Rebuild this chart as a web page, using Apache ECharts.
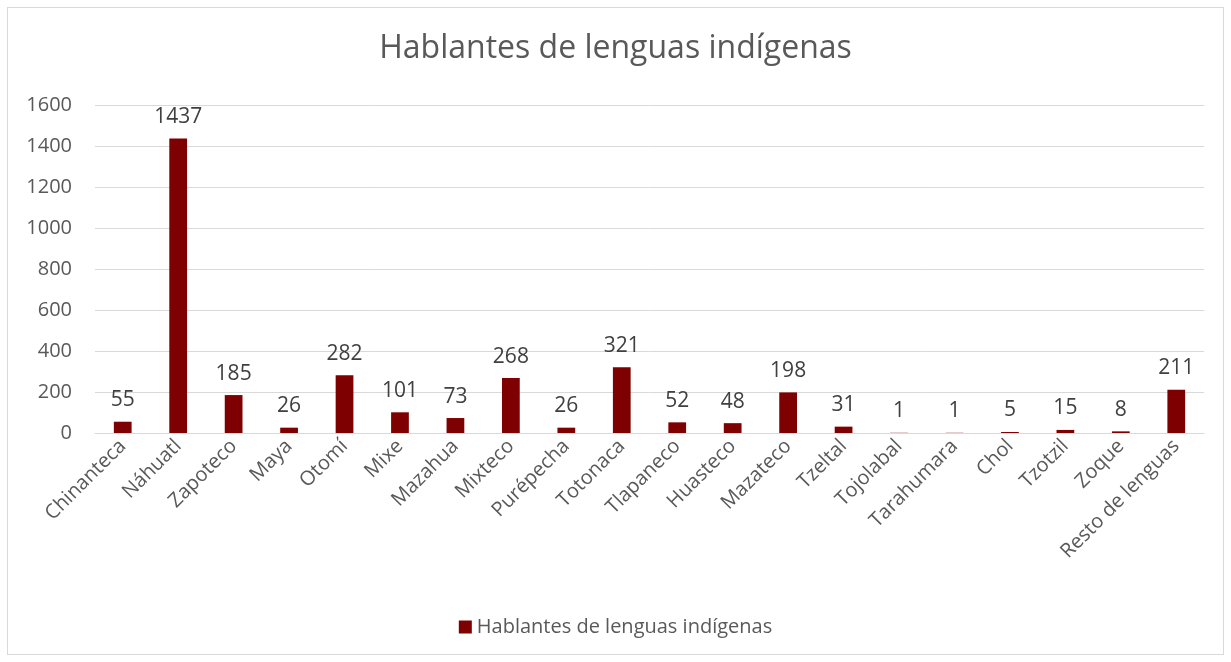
<!doctype html>
<html lang="es">
<head>
    <meta charset="UTF-8">
    <script src="https://cdn.jsdelivr.net/npm/echarts@6/dist/echarts.min.js"></script>
    <title>Hablantes de lenguas indígenas</title>
    <style>
        html, body { margin: 0; padding: 0; background: #fff; }
        #frame { position: absolute; left: 7px; top: 7px; width: 1215px; height: 646px; border: 1px solid #d9d9d9; }
        #main { position: absolute; left: 0; top: 0; width: 1231px; height: 662px; }
    </style>
</head>
<body>
<div id="frame"></div>
<div id="main"></div>
<script type="text/javascript">
    var lenguas = ['Chinanteca', 'Náhuatl', 'Zapoteco', 'Maya', 'Otomí', 'Mixe', 'Mazahua', 'Mixteco',
        'Purépecha', 'Totonaca', 'Tlapaneco', 'Huasteco', 'Mazateco', 'Tzeltal', 'Tojolabal',
        'Tarahumara', 'Chol', 'Tzotzil', 'Zoque', 'Resto de lenguas'];
    var hablantes = [55, 1437, 185, 26, 282, 101, 73, 268, 26, 321, 52, 48, 198, 31, 1, 1, 5, 15, 8, 211];
    var nombreSerie = 'Hablantes de lenguas indígenas';

    var fuente = '"Open Sans", Lato, sans-serif';
    var myChart = echarts.init(document.getElementById('main'));

    var option = {
        animation: false,
        textStyle: { fontFamily: fuente },
        title: {
            text: nombreSerie,
            left: 'center',
            top: 28,
            textStyle: { fontSize: 32, fontWeight: 'normal', color: '#595959', fontFamily: fuente }
        },
        legend: {
            data: [nombreSerie],
            bottom: 20,
            left: 'center',
            icon: 'rect',
            itemWidth: 13,
            itemHeight: 13,
            itemGap: 6,
            textStyle: { fontSize: 20, color: '#595959', fontFamily: fuente }
        },
        grid: { left: 95, right: 27, top: 105, bottom: 229 },
        xAxis: {
            type: 'category',
            data: lenguas,
            axisTick: { show: false },
            axisLine: { lineStyle: { color: '#d9d9d9' } },
            axisLabel: { rotate: 45, fontSize: 20, color: '#595959', interval: 0, margin: 10, fontFamily: fuente }
        },
        yAxis: {
            type: 'value',
            min: 0,
            max: 1600,
            interval: 200,
            axisLine: { show: false },
            axisTick: { show: false },
            splitLine: { lineStyle: { color: '#d9d9d9' } },
            axisLabel: {
                fontSize: 20, color: '#595959', margin: 23, fontFamily: fuente,
                formatter: function (v) { return String(v); }
            }
        },
        series: [{
            name: nombreSerie,
            type: 'bar',
            data: hablantes,
            barWidth: '32%',
            itemStyle: { color: '#7f0000' },
            label: { show: true, position: 'top', distance: 11, fontSize: 21, color: '#404040', fontFamily: fuente }
        }]
    };

    myChart.setOption(option);
</script>
</body>
</html>
